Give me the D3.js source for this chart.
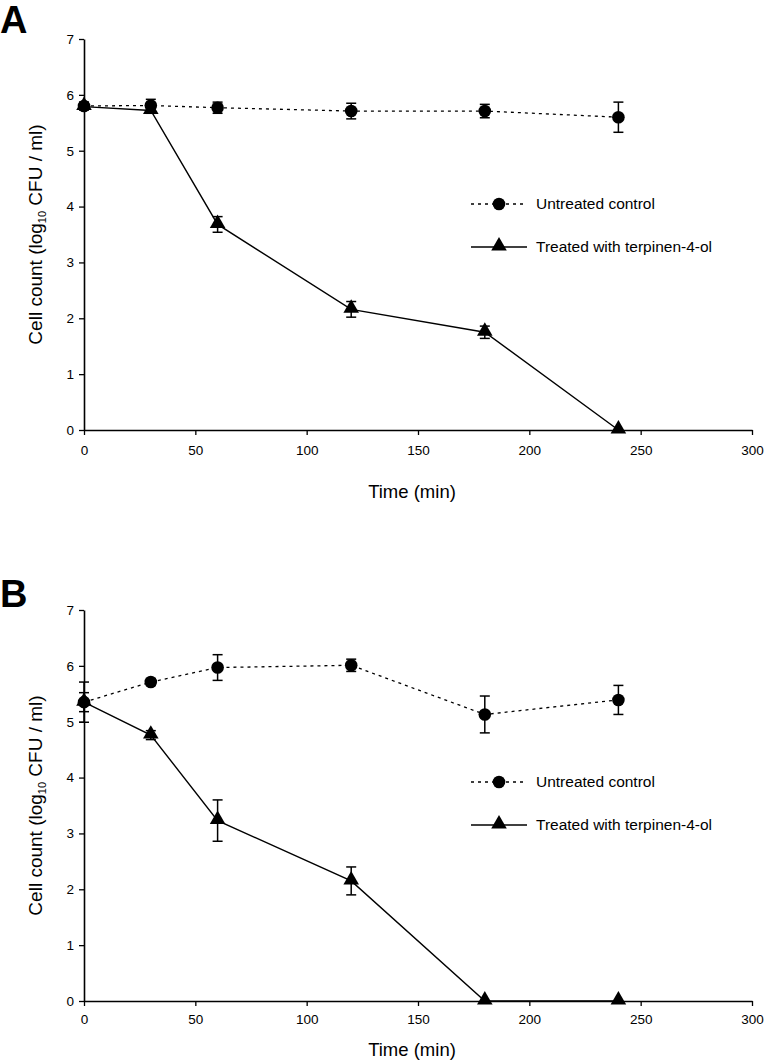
<!DOCTYPE html>
<html><head><meta charset="utf-8">
<script src="https://cdn.jsdelivr.net/npm/d3@7"></script>
<style>body{margin:0;background:#fff}svg{display:block}text{font-family:"Liberation Sans",Arial,sans-serif}</style>
</head><body>
<svg id="c" width="768" height="1063"></svg>
<script>
const times = [0, 30, 60, 120, 180, 240];
const xTicks = [0, 50, 100, 150, 200, 250, 300];
const yTicks = [0, 1, 2, 3, 4, 5, 6, 7];
// Panel A
const controlA = [5.80, 5.81, 5.77, 5.71, 5.71, 5.60];
const controlAErr = [0.07, 0.11, 0.10, 0.14, 0.12, 0.27];
const treatedA = [5.79, 5.72, 3.68, 2.16, 1.75, 0];
const treatedAErr = [0.05, 0.05, 0.14, 0.14, 0.11, 0];
// Panel B
const controlB = [5.35, 5.71, 5.97, 6.01, 5.13, 5.39];
const controlBErr = [0.36, 0.06, 0.23, 0.11, 0.33, 0.26];
const treatedB = [5.35, 4.76, 3.23, 2.15, 0, 0];
const treatedBErr = [0.17, 0.08, 0.37, 0.25, 0, 0];
const seriesNames = ["Untreated control", "Treated with terpinen-4-ol"];

const svg = d3.select("#c");

function panel(letter, top, letterY, cVals, cErr, tVals, tErr, legendY, tickOff, titleOff) {
  const x = d3.scaleLinear().domain([0, 300]).range([84, 752]);
  const y = d3.scaleLinear().domain([0, 7]).range([top + 391, top]);
  const g = svg.append("g");
  g.append("text").attr("x", 0).attr("y", letterY).attr("font-size", 38).attr("font-weight", "bold").text(letter);

  const yAx = g.append("g").attr("transform", `translate(${x(0)},0)`)
    .call(d3.axisLeft(y).tickValues(yTicks).tickSize(5).tickSizeOuter(0).tickFormat(d3.format("d")));
  const xAx = g.append("g").attr("transform", `translate(0,${y(0)})`)
    .call(d3.axisBottom(x).tickValues(xTicks).tickSize(5).tickSizeOuter(0).tickFormat(d3.format("d")));
  [yAx, xAx].forEach(a => {
    a.select(".domain").attr("stroke", "#000").attr("stroke-width", 1.6);
    a.selectAll(".tick line").attr("stroke", "#000").attr("stroke-width", 1.3);
    a.selectAll("text").attr("font-size", 13.5).attr("fill", "#000").style("font-family", "Liberation Sans, Arial, sans-serif");
  });
  yAx.selectAll("text").attr("x", -10);
  xAx.selectAll("text").attr("y", tickOff).attr("dy", 0);

  const yl = g.append("text").attr("transform", `translate(42,${y(3.5)}) rotate(-90)`)
    .attr("text-anchor", "middle").attr("font-size", 19);
  yl.append("tspan").text("Cell count (log");
  yl.append("tspan").attr("font-size", 11).attr("dy", 4).text("10");
  yl.append("tspan").attr("dy", -4).text(" CFU / ml)");
  g.append("text").attr("x", 412).attr("y", y(0) + titleOff).attr("text-anchor", "middle").attr("font-size", 18.5).text("Time (min)");

  const line = d3.line().x(d => x(d[0])).y(d => y(d[1]));
  const cData = times.map((t, i) => [t, cVals[i], cErr[i]]);
  const tData = times.map((t, i) => [t, tVals[i], tErr[i]]);

  g.append("path").attr("d", line(cData)).attr("fill", "none").attr("stroke", "#000").attr("stroke-width", 1.3).attr("stroke-dasharray", "3,4");
  g.append("path").attr("d", line(tData)).attr("fill", "none").attr("stroke", "#000").attr("stroke-width", 1.4);

  function errBars(data) {
    const eb = g.append("g").attr("stroke", "#000").attr("stroke-width", 1.5);
    data.filter(d => d[2] > 0).forEach(d => {
      const cx = x(d[0]), y1 = y(d[1] + d[2]), y2 = y(d[1] - d[2]);
      eb.append("line").attr("x1", cx).attr("x2", cx).attr("y1", y1).attr("y2", y2);
      eb.append("line").attr("x1", cx - 5).attr("x2", cx + 5).attr("y1", y1).attr("y2", y1);
      eb.append("line").attr("x1", cx - 5).attr("x2", cx + 5).attr("y1", y2).attr("y2", y2);
    });
  }
  errBars(cData);
  errBars(tData);

  const tri = d3.symbol().type(d3.symbolTriangle).size(105);
  g.selectAll(".tri").data(tData).join("path")
    .attr("transform", d => `translate(${x(d[0])},${y(d[1]) - 1})`).attr("d", tri()).attr("fill", "#000");
  g.selectAll(".cir").data(cData).join("circle")
    .attr("cx", d => x(d[0])).attr("cy", d => y(d[1])).attr("r", 6.3).attr("fill", "#000");

  // legend
  const lx0 = 471, lx1 = 527, lc = 499;
  const l1 = legendY, l2 = legendY + 43;
  g.append("line").attr("x1", lx0).attr("x2", lx1).attr("y1", l1).attr("y2", l1).attr("stroke", "#000").attr("stroke-width", 1.3).attr("stroke-dasharray", "3,4");
  g.append("circle").attr("cx", lc).attr("cy", l1).attr("r", 6.3).attr("fill", "#000");
  g.append("text").attr("x", 536).attr("y", l1 + 4.5).attr("font-size", 15.5).text(seriesNames[0]);
  g.append("line").attr("x1", lx0).attr("x2", lx1).attr("y1", l2).attr("y2", l2).attr("stroke", "#000").attr("stroke-width", 1.4);
  g.append("path").attr("transform", `translate(${lc},${l2 - 1})`).attr("d", tri()).attr("fill", "#000");
  g.append("text").attr("x", 536).attr("y", l2 + 4.5).attr("font-size", 15.5).text(seriesNames[1]);
}

panel("A", 39, 33, controlA, controlAErr, treatedA, treatedAErr, 204, 25, 68);
panel("B", 610, 607, controlB, controlBErr, treatedB, treatedBErr, 782, 23, 55);
</script>
</body></html>
